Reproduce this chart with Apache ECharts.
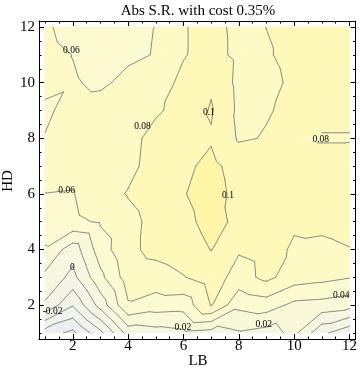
<!DOCTYPE html>
<html><head><meta charset="utf-8">
<script src="https://cdn.jsdelivr.net/npm/echarts/dist/echarts.min.js"></script>
<style>html,body{margin:0;padding:0;background:#fff}#c{width:360px;height:380px}</style>
</head><body><div id="c"></div>
<script>
// ---- data (grid of Abs S.R. values, rows = HD 1..12, columns = LB 1..12)
const lbValues = [1,2,3,4,5,6,7,8,9,10,11,12];
const hdValues = [1,2,3,4,5,6,7,8,9,10,11,12];
const hd01 = [-0.070,-0.085,-0.045,0.008,0.012,0.016,0.012,0.018,0.012,0.025,-0.015,-0.035];
const hd02 = [-0.003,-0.038,0.008,0.058,0.050,0.048,0.081,0.045,0.050,0.035,0.033,0.028];
const hd03 = [0.015,-0.006,0.035,0.070,0.072,0.079,0.090,0.072,0.085,0.070,0.066,0.061];
const hd04 = [0.038,0.009,0.050,0.076,0.085,0.090,0.1005,0.082,0.086,0.078,0.077,0.0795];
const hd05 = [0.050,0.056,0.062,0.075,0.085,0.095,0.106,0.096,0.088,0.082,0.083,0.085];
const hd06 = [0.0598,0.059,0.073,0.081,0.088,0.099,0.108,0.094,0.088,0.085,0.086,0.086];
const hd07 = [0.063,0.066,0.072,0.076,0.086,0.096,0.105,0.092,0.088,0.085,0.085,0.086];
const hd08 = [0.0605,0.065,0.070,0.075,0.085,0.090,0.098,0.078,0.081,0.080,0.079,0.079];
const hd09 = [0.058,0.064,0.065,0.072,0.078,0.085,0.102,0.076,0.079,0.083,0.084,0.084];
const hd10 = [0.063,0.061,0.058,0.063,0.072,0.084,0.097,0.075,0.077,0.082,0.084,0.085];
const hd11 = [0.064,0.0598,0.056,0.058,0.0605,0.079,0.086,0.076,0.079,0.083,0.085,0.085];
const hd12 = [0.062,0.055,0.055,0.056,0.0602,0.079,0.085,0.076,0.0801,0.083,0.085,0.086];
const zRows = [hd01,hd02,hd03,hd04,hd05,hd06,hd07,hd08,hd09,hd10,hd11,hd12];

const contourLevels = [-0.08,-0.06,-0.04,-0.02,0,0.02,0.04,0.06,0.08,0.10];
const bandColors = ['#e9eef1','#eceff0','#eff2ed','#f2f4ea','#f4f5e6','#f7f7e1','#f9f9da','#fbfad1','#fdfac6','#fef9b9','#fff5a6'];
const tickMajor = [2,4,6,8,10,12];
const tickMinor = [1,1.5,2.5,3,3.5,4.5,5,5.5,6.5,7,7.5,8.5,9,9.5,10.5,11,11.5];
const contourLabelText = ['0.06','0.1','0.08','0.08','0.1','0.06','0','-0.02','0.02','0.02','0.04'];
const contourLabelAt = [[1.95,11.15],[6.92,8.94],[4.52,8.43],[10.96,7.95],[7.61,5.96],[1.78,6.14],[1.99,3.34],[1.27,1.78],[5.98,1.19],[8.9,1.31],[11.7,2.36]];

// ---- helpers
const FONT = '"Liberation Serif","Times New Roman",serif';
const AXMIN = 0.78, AXMAX = 12.22;
function cellTriangles(i,j){
  const x0=lbValues[i], x1=lbValues[i+1], y0=hdValues[j], y1=hdValues[j+1];
  const a=[x0,y0,zRows[j][i]], b=[x1,y0,zRows[j][i+1]], c=[x1,y1,zRows[j+1][i+1]], d=[x0,y1,zRows[j+1][i]];
  return [[a,b,c],[a,c,d]];
}
function clip(poly, lv, keepAbove){
  const out=[];
  for(let k=0;k<poly.length;k++){
    const P=poly[k], Q=poly[(k+1)%poly.length];
    const pin = keepAbove ? P[2]>=lv : P[2]<=lv;
    const qin = keepAbove ? Q[2]>=lv : Q[2]<=lv;
    if(pin) out.push(P);
    if(pin!==qin){ const t=(lv-P[2])/(Q[2]-P[2]); out.push([P[0]+t*(Q[0]-P[0]),P[1]+t*(Q[1]-P[1]),lv]); }
  }
  return out;
}
function seg(tri, lv){
  const pts=[];
  for(let e=0;e<3;e++){
    const P=tri[e], Q=tri[(e+1)%3];
    if((P[2]-lv)*(Q[2]-lv)<0){ const t=(lv-P[2])/(Q[2]-P[2]); pts.push([P[0]+t*(Q[0]-P[0]),P[1]+t*(Q[1]-P[1])]); }
  }
  return pts.length===2?pts:null;
}
const cells=[];
for(let j=0;j<hdValues.length-1;j++) for(let i=0;i<lbValues.length-1;i++) cells.push([i,j]);

function xAxisCfg(pos, ticks, len, line, label){
  return {type:'value', position:pos, min:AXMIN, max:AXMAX,
    axisLine:{show:line,onZero:false,lineStyle:{color:'#000',width:1}},
    axisTick:{show:true,inside:true,length:len,customValues:ticks,lineStyle:{color:'#000',width:1}},
    axisLabel:{show:label,customValues:ticks,margin:0,color:'#000',fontFamily:FONT,fontSize:15},
    splitLine:{show:false}};
}
function yAxisCfg(pos, ticks, len, line, label){
  const c = xAxisCfg(pos, ticks, len, line, label);
  c.axisLabel.margin = 4;
  return c;
}

const chart = echarts.init(document.getElementById('c'), null, {renderer:'canvas'});
chart.setOption({
  animation:false,
  grid:{left:39, right:3, top:21, bottom:41},
  xAxis:[xAxisCfg('bottom',tickMajor,5,true,true), xAxisCfg('top',tickMajor,5,true,false),
         xAxisCfg('bottom',tickMinor,2.5,false,false), xAxisCfg('top',tickMinor,2.5,false,false)],
  yAxis:[yAxisCfg('left',tickMajor,5,true,true), yAxisCfg('right',tickMajor,5,true,false),
         yAxisCfg('left',tickMinor,2.5,false,false), yAxisCfg('right',tickMinor,2.5,false,false)],
  graphic:[
    {type:'text', x:198, y:4, style:{text:'Abs S.R. with cost 0.35%', textAlign:'center', textVerticalAlign:'top', font:'15px '+FONT, fill:'#000'}},
    {type:'text', x:198, y:361, style:{text:'LB', textAlign:'center', textVerticalAlign:'middle', font:'15px '+FONT, fill:'#000'}},
    {type:'text', x:8, y:181, rotation:Math.PI/2, style:{text:'HD', textAlign:'center', textVerticalAlign:'middle', font:'15px '+FONT, fill:'#000'}}
  ],
  series:[
    {type:'custom', z:1, xAxisIndex:0, yAxisIndex:0, data:cells, silent:true,
     renderItem:(params,api)=>{
       const i=api.value(0), j=api.value(1), children=[];
       for(const tri of cellTriangles(i,j)){
         for(let k=0;k<=contourLevels.length;k++){
           let p=tri;
           if(k>0) p=clip(p,contourLevels[k-1],true);
           if(p.length<3) continue;
           if(k<contourLevels.length) p=clip(p,contourLevels[k],false);
           if(p.length<3) continue;
           children.push({type:'polygon', silent:true, shape:{points:p.map(q=>api.coord([q[0],q[1]]))},
             style:{fill:bandColors[k], stroke:bandColors[k], lineWidth:0.7}});
         }
       }
       return {type:'group', children};
     }},
    {type:'custom', z:2, xAxisIndex:0, yAxisIndex:0, data:cells, silent:true,
     renderItem:(params,api)=>{
       const i=api.value(0), j=api.value(1), children=[];
       for(const tri of cellTriangles(i,j)){
         for(const lv of contourLevels){
           const s=seg(tri,lv);
           if(!s) continue;
           const p1=api.coord(s[0]), p2=api.coord(s[1]);
           children.push({type:'line', silent:true, shape:{x1:p1[0],y1:p1[1],x2:p2[0],y2:p2[1]},
             style:{stroke:'#8d8d82', lineWidth:1, lineCap:'round'}});
         }
       }
       return {type:'group', children};
     }},
    {type:'custom', z:3, xAxisIndex:0, yAxisIndex:0, silent:true,
     data:contourLabelAt.map((p,k)=>[p[0],p[1],k]),
     renderItem:(params,api)=>{
       const pt=api.coord([api.value(0),api.value(1)]);
       return {type:'text', x:pt[0], y:pt[1], style:{text:contourLabelText[api.value(2)], textAlign:'center', textVerticalAlign:'middle', font:'9.5px '+FONT, fill:'#000'}};
     }}
  ]
});
</script>
</body></html>
